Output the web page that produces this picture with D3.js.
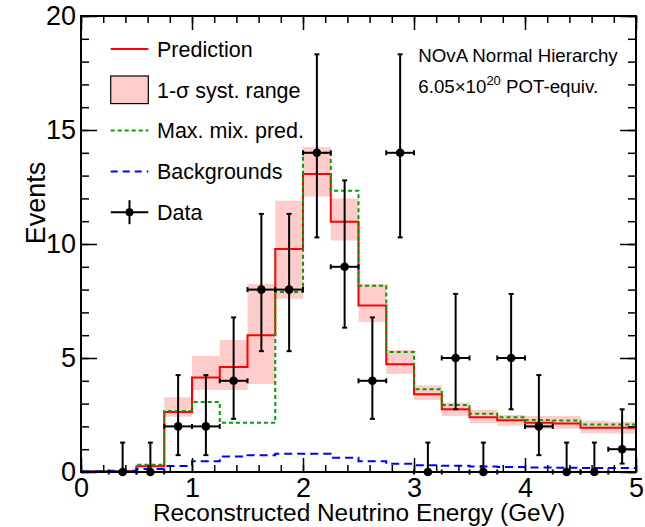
<!DOCTYPE html>
<html>
<head>
<meta charset="utf-8">
<script src="https://cdn.jsdelivr.net/npm/d3@7"></script>
<style>
  html, body { margin: 0; padding: 0; background: #fff; }
  svg text { font-family: "Liberation Sans", Arial, Helvetica, sans-serif; fill: #000; }
</style>
</head>
<body>
<svg id="chart" width="645" height="527"></svg>
<script>
// Reconstructed energy bins (GeV)
const binEdges = [0, 0.25, 0.5, 0.75, 1.0, 1.25, 1.5, 1.75, 2.0, 2.25, 2.5,
                  2.75, 3.0, 3.25, 3.5, 3.75, 4.0, 4.25, 4.5, 4.75, 5.0];

// Expected events per bin
const prediction = [0.03, 0.04, 0.25, 2.63, 4.14, 4.6, 6.0, 9.78, 13.07, 10.98,
                    7.3, 4.73, 3.41, 2.75, 2.4, 2.27, 2.16, 2.13, 1.94, 1.94];
const systLow    = [0.02, 0.03, 0.2, 2.43, 3.6, 3.6, 3.86, 7.6, 12.08, 10.15,
                    6.58, 4.3, 3.16, 2.46, 2.13, 2.03, 1.9, 1.9, 1.7, 1.68];
const systHigh   = [0.04, 0.05, 0.32, 3.28, 5.09, 5.79, 8.25, 11.9, 14.25, 12.0,
                    8.24, 5.35, 3.8, 3.04, 2.72, 2.5, 2.46, 2.46, 2.25, 2.2];
const maxMixPred = [0.03, 0.04, 0.32, 2.67, 3.07, 2.16, 2.16, 7.9, 14.0, 12.34,
                    8.17, 5.26, 3.63, 2.94, 2.56, 2.4, 2.28, 2.26, 2.08, 2.08];
const backgrounds = [0.02, 0.05, 0.13, 0.26, 0.47, 0.68, 0.74, 0.8, 0.8, 0.62,
                     0.47, 0.36, 0.3, 0.27, 0.24, 0.22, 0.2, 0.19, 0.18, 0.17];

// Observed events with 68% intervals
const dataX    = [0.375, 0.625, 0.875, 1.125, 1.375, 1.625, 1.875, 2.125, 2.375, 2.625,
                  2.875, 3.125, 3.375, 3.625, 3.875, 4.125, 4.375, 4.625, 4.875];
const dataN    = [0, 0, 2, 2, 4, 8, 8, 14, 9, 4, 14, 0, 5, 0, 5, 2, 0, 0, 1];
const dataLow  = [0, 0, 0.74, 0.74, 2.33, 5.30, 5.30, 10.29, 6.33, 2.33,
                  10.29, 0, 2.75, 0, 2.75, 0.74, 0, 0, 0.37];
const dataHigh = [1.29, 1.29, 4.25, 4.25, 6.78, 11.32, 11.32, 18.32, 12.79, 6.78,
                  18.32, 1.29, 7.81, 1.29, 7.81, 4.25, 1.29, 1.29, 2.75];
const binHalfWidth = 0.125;

// Axis ticks
const xMajorTicks = [0, 1, 2, 3, 4, 5];
const xMinorTicks = d3.range(0, 5.001, 0.2).map(v => +v.toFixed(1));
const yMajorTicks = [0, 5, 10, 15, 20];
const yMinorTicks = d3.range(0, 21, 1);

const legendLabels = ["Prediction", "1-\u03c3 syst. range", "Max. mix. pred.", "Backgrounds", "Data"];

const colors = { pred: "#ff0000", band: "#ffcccc", maxmix: "#00a000", bkg: "#0000ff", data: "#000000" };

const svg = d3.select("#chart");
const plotLeft = 81, plotRight = 636, plotTop = 16, plotBottom = 472;
const x = d3.scaleLinear().domain([0, 5]).range([plotLeft, plotRight]);
const y = d3.scaleLinear().domain([0, 20]).range([plotBottom, plotTop]);

// Systematic band
svg.append("g").selectAll("rect")
  .data(prediction.map((p, i) => ({ x0: binEdges[i], x1: binEdges[i + 1], lo: systLow[i], hi: systHigh[i] })))
  .join("rect")
  .attr("x", d => x(d.x0))
  .attr("width", d => x(d.x1) - x(d.x0))
  .attr("y", d => y(d.hi))
  .attr("height", d => y(d.lo) - y(d.hi))
  .attr("fill", colors.band);

// Step histograms
function stepPoints(values) {
  const pts = values.map((v, i) => [binEdges[i], v]);
  pts.push([binEdges[binEdges.length - 1], values[values.length - 1]]);
  return pts;
}
const stepLine = d3.line().x(d => x(d[0])).y(d => y(d[1])).curve(d3.curveStepAfter);

svg.append("path").attr("d", stepLine(stepPoints(prediction)))
  .attr("fill", "none").attr("stroke", colors.pred).attr("stroke-width", 2);
svg.append("path").attr("d", stepLine(stepPoints(maxMixPred)))
  .attr("fill", "none").attr("stroke", colors.maxmix).attr("stroke-width", 2)
  .attr("stroke-dasharray", "4,3");
svg.append("path").attr("d", stepLine(stepPoints(backgrounds)))
  .attr("fill", "none").attr("stroke", colors.bkg).attr("stroke-width", 2)
  .attr("stroke-dasharray", "8,5");

// Data points with error bars
const pts = dataX.map((v, i) => ({ x: v, n: dataN[i], lo: dataLow[i], hi: dataHigh[i] }));
const gData = svg.append("g").attr("stroke", colors.data).attr("stroke-width", 2);
const cap = 2.5;
pts.forEach(d => {
  const cx = x(d.x), cy = y(d.n);
  const xl = x(d.x - binHalfWidth), xr = x(d.x + binHalfWidth);
  gData.append("line").attr("x1", xl).attr("x2", xr).attr("y1", cy).attr("y2", cy);
  gData.append("line").attr("x1", xl).attr("x2", xl).attr("y1", cy - cap).attr("y2", cy + cap);
  gData.append("line").attr("x1", xr).attr("x2", xr).attr("y1", cy - cap).attr("y2", cy + cap);
  gData.append("line").attr("x1", cx).attr("x2", cx).attr("y1", y(d.lo)).attr("y2", y(d.hi));
  gData.append("line").attr("x1", cx - cap).attr("x2", cx + cap).attr("y1", y(d.hi)).attr("y2", y(d.hi));
  if (d.lo > 0) {
    gData.append("line").attr("x1", cx - cap).attr("x2", cx + cap).attr("y1", y(d.lo)).attr("y2", y(d.lo));
  }
});
svg.append("g").selectAll("circle").data(pts).join("circle")
  .attr("cx", d => x(d.x)).attr("cy", d => y(d.n)).attr("r", 4.3).attr("fill", colors.data);

// Axes: ticks point into the frame on all four sides
function styleAxis(size) {
  return g => {
    g.selectAll(".domain").remove();
    g.selectAll(".tick line").attr("stroke", "#000").attr("stroke-width", 1.5);
    g.selectAll("text").attr("font-size", size)
      .attr("font-family", "Liberation Sans, Arial, sans-serif").attr("fill", "#000");
  };
}
svg.append("g").attr("transform", `translate(0,${plotBottom})`)
  .call(d3.axisBottom(x).tickValues(xMinorTicks).tickSize(-7).tickFormat("")).call(styleAxis(27));
svg.append("g").attr("transform", `translate(0,${plotBottom})`)
  .call(d3.axisBottom(x).tickValues(xMajorTicks).tickSize(-14).tickPadding(6).tickFormat(d3.format("d")))
  .call(styleAxis(27));
svg.append("g").attr("transform", `translate(0,${plotTop})`)
  .call(d3.axisTop(x).tickValues(xMinorTicks).tickSize(-7).tickFormat("")).call(styleAxis(27));
svg.append("g").attr("transform", `translate(0,${plotTop})`)
  .call(d3.axisTop(x).tickValues(xMajorTicks).tickSize(-14).tickFormat("")).call(styleAxis(27));
svg.append("g").attr("transform", `translate(${plotLeft},0)`)
  .call(d3.axisLeft(y).tickValues(yMinorTicks).tickSize(-8).tickFormat("")).call(styleAxis(27));
svg.append("g").attr("transform", `translate(${plotLeft},0)`)
  .call(d3.axisLeft(y).tickValues(yMajorTicks).tickSize(-16).tickPadding(5).tickFormat(d3.format("d")))
  .call(styleAxis(27));
svg.append("g").attr("transform", `translate(${plotRight},0)`)
  .call(d3.axisRight(y).tickValues(yMinorTicks).tickSize(-8).tickFormat("")).call(styleAxis(27));
svg.append("g").attr("transform", `translate(${plotRight},0)`)
  .call(d3.axisRight(y).tickValues(yMajorTicks).tickSize(-16).tickFormat("")).call(styleAxis(27));

// Frame
svg.append("rect").attr("x", plotLeft).attr("y", plotTop)
  .attr("width", plotRight - plotLeft).attr("height", plotBottom - plotTop)
  .attr("fill", "none").attr("stroke", "#000").attr("stroke-width", 2);

// Axis titles
svg.append("text").attr("x", 359).attr("y", 520.5).attr("text-anchor", "middle")
  .attr("font-size", 24.4).text("Reconstructed Neutrino Energy (GeV)");
svg.append("text").attr("transform", "translate(45,203) rotate(-90)").attr("text-anchor", "middle")
  .attr("font-size", 27).text("Events");

// Legend
const legX0 = 110.7, legX1 = 148.3, legText = 157, legBase0 = 56.7, legStep = 40.8;
const legend = svg.append("g");
legendLabels.forEach((label, i) => {
  const base = legBase0 + i * legStep;
  const cy = base - 7.7;
  legend.append("text").attr("x", legText).attr("y", base).attr("font-size", 21.5).text(label);
  if (i === 0) {
    legend.append("line").attr("x1", legX0).attr("x2", legX1).attr("y1", cy).attr("y2", cy)
      .attr("stroke", colors.pred).attr("stroke-width", 2);
  } else if (i === 1) {
    legend.append("rect").attr("x", legX0).attr("y", cy - 13.8).attr("width", legX1 - legX0).attr("height", 27.6)
      .attr("fill", colors.band).attr("stroke", "#000").attr("stroke-width", 1.2);
  } else if (i === 2) {
    legend.append("line").attr("x1", legX0).attr("x2", legX1).attr("y1", cy).attr("y2", cy)
      .attr("stroke", colors.maxmix).attr("stroke-width", 2).attr("stroke-dasharray", "4,3");
  } else if (i === 3) {
    legend.append("line").attr("x1", legX0).attr("x2", legX1).attr("y1", cy).attr("y2", cy)
      .attr("stroke", colors.bkg).attr("stroke-width", 2).attr("stroke-dasharray", "7,5");
  } else {
    const mx = (legX0 + legX1) / 2;
    legend.append("line").attr("x1", legX0).attr("x2", legX1).attr("y1", cy).attr("y2", cy)
      .attr("stroke", "#000").attr("stroke-width", 2);
    legend.append("line").attr("x1", mx).attr("x2", mx).attr("y1", cy - 12).attr("y2", cy + 12)
      .attr("stroke", "#000").attr("stroke-width", 2);
    legend.append("circle").attr("cx", mx).attr("cy", cy).attr("r", 4).attr("fill", "#000");
  }
});

// Exposure annotation
svg.append("text").attr("x", 418.3).attr("y", 61.7).attr("font-size", 18.7).text("NOvA Normal Hierarchy");
const expo = svg.append("text").attr("x", 418.3).attr("y", 92.7).attr("font-size", 18.7);
expo.append("tspan").text("6.05\u00d710");
expo.append("tspan").attr("font-size", 13).attr("dy", -7.5).text("20");
expo.append("tspan").attr("dy", 7.5).text(" POT-equiv.");
</script>
</body>
</html>
